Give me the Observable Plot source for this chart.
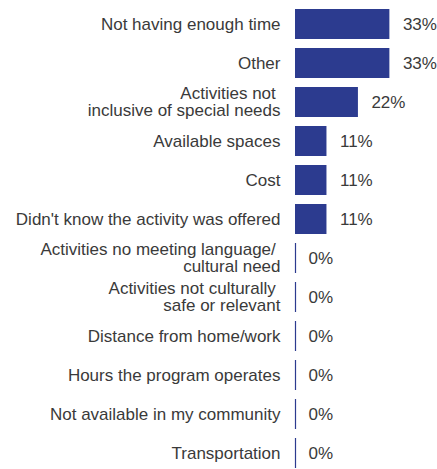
<!DOCTYPE html>
<html>
<head>
<meta charset="utf-8">
<script src="https://cdn.jsdelivr.net/npm/d3@7"></script>
<script src="https://cdn.jsdelivr.net/npm/@observablehq/plot@0.6"></script>
<style>
  html, body { margin: 0; padding: 0; background: #fff; }
  #chart svg { display: block; }
</style>
</head>
<body>
<div id="chart"></div>
<script>
const categories = [
  "Not having enough time",
  "Other",
  "Activities not\u00a0\ninclusive of special needs",
  "Available spaces",
  "Cost",
  "Didn't know the activity was offered",
  "Activities no meeting language/\u00a0\ncultural need",
  "Activities not culturally\u00a0\nsafe or relevant",
  "Distance from home/work",
  "Hours the program operates",
  "Not available in my community",
  "Transportation"
];
const values = [33, 33, 22, 11, 11, 11, 0, 0, 0, 0, 0, 0];

const data = categories.map((c, i) => ({label: c, value: values[i]}));
const zeroRows = data.filter(d => d.value === 0);

const barColor = "#2c3b8f";
const textColor = "#3a3a3a";

const chart = Plot.plot({
  width: 437,
  height: 469,
  marginLeft: 295,
  marginRight: 0,
  marginTop: 0,
  marginBottom: 0,
  style: {fontFamily: "'Liberation Sans', Arial, sans-serif", fontSize: "17px", color: textColor, background: "#fff"},
  x: {domain: [0, 50], range: [295, 438], axis: null},
  y: {domain: categories, range: [-2.5, 479.5], padding: 0.24, axis: null},
  marks: [
    Plot.barX(data, {x: "value", y: "label", fill: barColor}),
    Plot.tickX(zeroRows, {x: "value", y: "label", stroke: barColor, strokeWidth: 1.2}),
    Plot.text(data, {y: "label", text: "label", frameAnchor: "left", textAnchor: "end", dx: -15, fill: textColor, fontSize: 17, lineHeight: 1}),
    Plot.text(data, {x: "value", y: "label", text: d => d.value + "%", textAnchor: "start", dx: 13, fill: textColor, fontSize: 17})
  ]
});
document.getElementById("chart").appendChild(chart);
</script>
</body>
</html>
